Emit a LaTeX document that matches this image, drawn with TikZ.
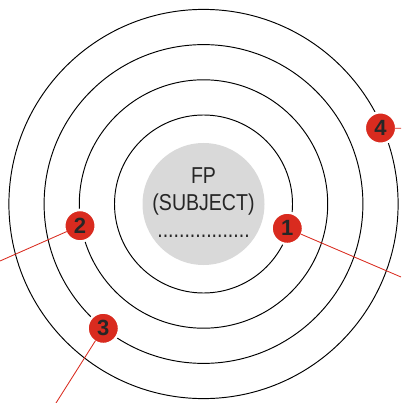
\documentclass[tikz,border=0pt]{standalone}
\usepackage{fontspec}
\setmainfont{Liberation Sans}
\newfontfamily\narrowfont[FakeStretch=0.85]{Liberation Sans}
\usetikzlibrary{shapes, arrows}
\definecolor{markred}{HTML}{D92B1F}
\definecolor{subjgray}{HTML}{D9D9D9}
\tikzstyle{ring} = [draw=black, line width=0.95pt]
\tikzstyle{subject} = [circle, fill=subjgray, minimum size=122pt, inner sep=0pt]
\tikzstyle{caption} = [align=center, text=black!85,
    font=\narrowfont\fontsize{23}{27}\selectfont]
\tikzstyle{badge} = [circle, fill=markred, draw=white, line width=2.5pt,
    minimum size=31.5pt, inner sep=0pt, outer sep=-1.25pt, text=black!85,
    font=\fontsize{22}{22}\selectfont\bfseries]
\tikzstyle{line} = [draw=markred, line width=0.85pt]

\begin{document}
\begin{tikzpicture}[x=1pt, y=-1pt]
        \useasboundingbox (0,0) rectangle (401,403);
        % Place nodes
        \node [subject] (subj) at (203.5,204) {};
        \draw [ring] (subj.center) circle [radius=89pt];
        \draw [ring] (subj.center) circle [radius=124.2pt];
        \draw [ring] (subj.center) circle [radius=159.4pt];
        \draw [ring] (subj.center) circle [radius=194.6pt];
        \node [caption] (label) at (203.5,202.5) {FP\\(SUBJECT)\\.................};
        \node [badge] (one) at (287.3,228.3) {1};
        \node [badge] (two) at (80,225.7) {2};
        \node [badge] (three) at (103.3,328.3) {3};
        \node [badge] (four) at (380.5,128) {4};
        \coordinate (out1) at (401,277);
        \coordinate (out2) at (0,261);
        \coordinate (out3) at (56,403);
        \coordinate (out4) at (401,128.3);
        % Draw edges
        \path [line] (one) -- (out1);
        \path [line] (two) -- (out2);
        \path [line] (three) -- (out3);
        \path [line] (four) -- (out4);
    \end{tikzpicture}
\end{document}
